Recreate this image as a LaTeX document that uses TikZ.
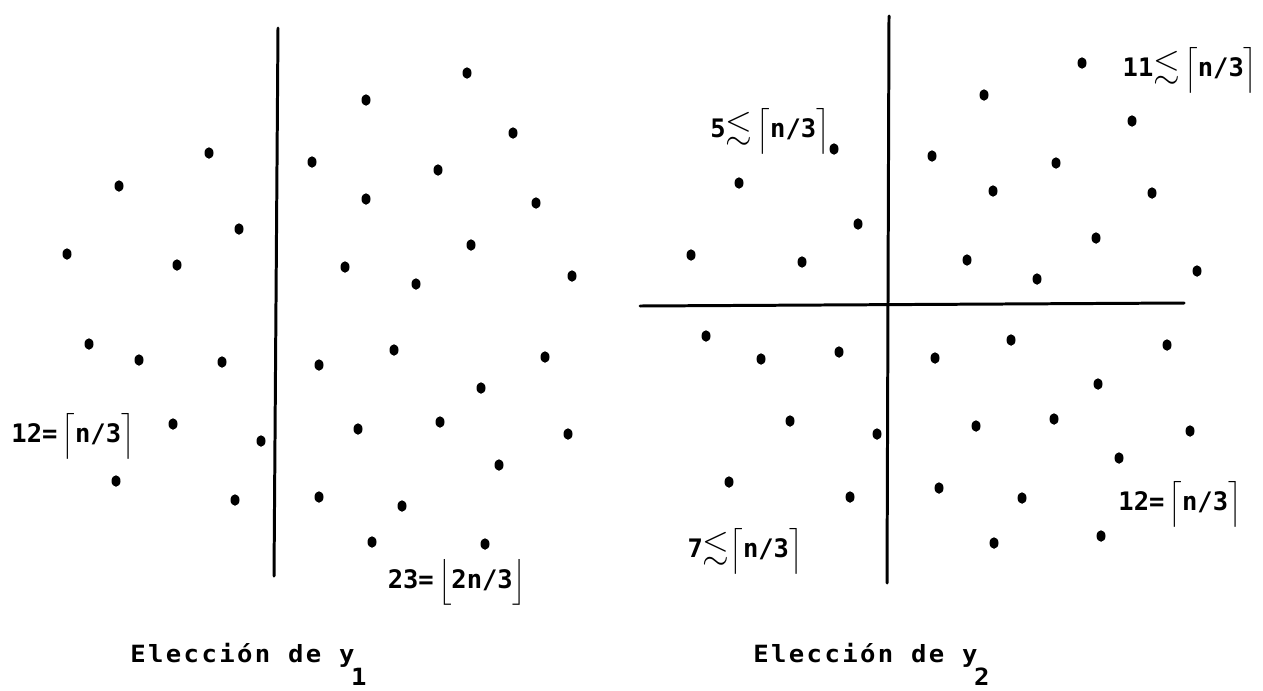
\documentclass[tikz,border=0pt]{standalone}
\usepackage{amsmath,amssymb}
\usepackage{fontspec}
\usetikzlibrary{shapes.geometric}
\newfontfamily\lblfont{DejaVu Sans Mono}
\newfontfamily\capfont[FakeStretch=1.08,LetterSpace=10]{DejaVu Sans Mono}
\newcommand{\ceilof}[1]{$\boldsymbol{\Bigl\lceil}$#1$\boldsymbol{\Bigr\rceil}$}
\newcommand{\floorof}[1]{$\boldsymbol{\Bigl\lfloor}$#1$\boldsymbol{\Bigr\rfloor}$}
\newcommand{\menorq}{\scalebox{1.35}{$\boldsymbol{\lesssim}$}}

\begin{document}
\begin{tikzpicture}[
  x=0.02cm, y=-0.02cm,
  punto/.style = {ellipse, fill=black, inner sep=0pt,
                  minimum width=1.8mm, minimum height=2.3mm},
  corte/.style = {line width=1.7pt, line cap=round},
  lbl/.style   = {font=\lblfont\bfseries\fontsize{14.5}{17}\selectfont, inner sep=0pt},
  capt/.style  = {font=\capfont\bfseries\fontsize{13.5}{16}\selectfont, inner sep=0pt,
                  anchor=base west},
]
\useasboundingbox (0,0) rectangle (1263,690);

% eleccion de y_1: 12 puntos a la izquierda, 23 a la derecha
\foreach \x/\y [count=\i] in {209/153, 119/186, 239/229, 67/254, 177/265, 89/344,
    139/360, 222/362, 173/424, 261/441, 116/481, 235/500}
  \node[punto] (iz\i) at (\x,\y) {};
\foreach \x/\y [count=\i] in {467/73, 366/100, 513/133, 312/162, 438/170, 366/199,
    536/203, 471/245, 345/267, 416/284, 572/276, 394/350, 319/365, 545/357,
    481/388, 358/429, 440/422, 568/434, 499/465, 319/497, 402/506, 372/542, 485/544}
  \node[punto] (de\i) at (\x,\y) {};

\coordinate (ya) at (278,28);
\coordinate (yb) at (274,576);
\draw[corte] (ya) -- (yb);

\node[lbl] (n12a) at (73,436) {12=\,\ceilof{n/3}};
\node[lbl] (n23)  at (457,582) {23=\,\floorof{2n/3}};
\node[capt] (t1) at (130,662) {Elección de y\hspace{-2pt}\raisebox{-0.47cm}{1}};

% eleccion de y_2: cuatro cuadrantes
\foreach \x/\y [count=\i] in {834/149, 739/183, 858/224, 691/255, 802/262}
  \node[punto] (q\i) at (\x,\y) {};
\foreach \x/\y [count=\i] in {1082/63, 984/95, 1132/121, 932/156, 1056/163, 993/191,
    1152/193, 1096/238, 967/260, 1037/279, 1197/271}
  \node[punto] (r\i) at (\x,\y) {};
\foreach \x/\y [count=\i] in {706/336, 761/359, 839/352, 790/421, 877/434, 729/482,
    850/497}
  \node[punto] (s\i) at (\x,\y) {};
\foreach \x/\y [count=\i] in {1011/340, 935/358, 1167/345, 1098/384, 976/426,
    1054/419, 1190/431, 1119/458, 939/488, 1022/498, 994/543, 1101/536}
  \node[punto] (u\i) at (\x,\y) {};

\coordinate (va) at (889,16);
\coordinate (vb) at (887,583);
\coordinate (ha) at (640,306);
\coordinate (hb) at (1184,303);
\draw[corte] (va) -- (vb);
\draw[corte] (ha) -- (hb);

\node[lbl] (n5)   at (770,131)  {5\menorq\,\ceilof{n/3}};
\node[lbl] (n11)  at (1190,70)  {11\menorq\,\ceilof{n/3}};
\node[lbl] (n7)   at (745,551)  {7\menorq\ceilof{n/3}};
\node[lbl] (n12b) at (1180,504) {12=\,\ceilof{n/3}};
\node[capt] (t2) at (753,662) {Elección de y\hspace{-2pt}\raisebox{-0.47cm}{2}};
\end{tikzpicture}
\end{document}
